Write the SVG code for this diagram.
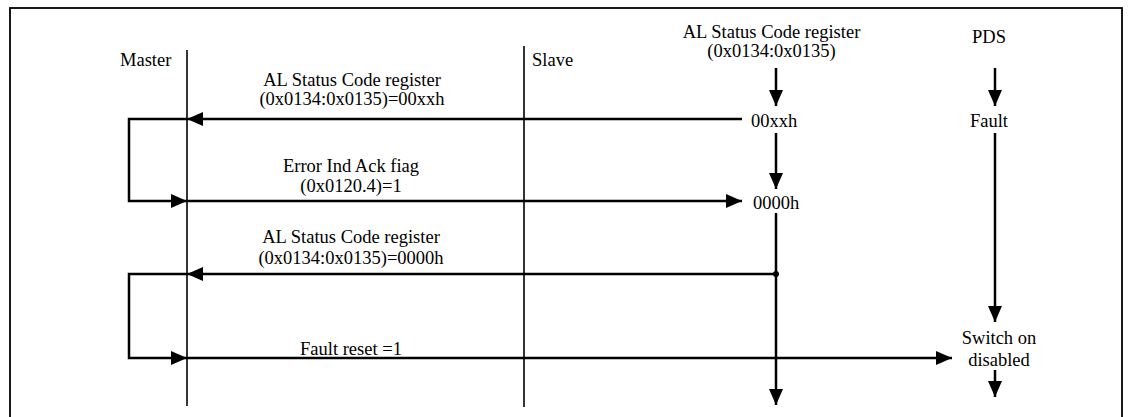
<svg xmlns="http://www.w3.org/2000/svg" width="1131" height="417" viewBox="0 0 1131 417">
<style>
text{font-family:"Liberation Serif","Times New Roman",serif;font-size:18.5px;fill:#000}
.c{text-anchor:middle}
.life{stroke:#000;stroke-width:1.6;fill:none}
.arr{stroke:#000;stroke-width:2.5;fill:none}
.frame{stroke:#000;stroke-width:1.8;fill:none}
</style>
<defs>
<marker id="ah" markerUnits="userSpaceOnUse" markerWidth="17" markerHeight="15" refX="16" refY="7" orient="auto">
<path d="M0,0 L16,7 L0,14 z" fill="#000"/>
</marker>
</defs>
<rect class="frame" x="10" y="8" width="1112" height="412"/>
<g id="master">
<line class="life" x1="187" y1="50" x2="187" y2="406"/>
<text x="120" y="66">Master</text>
</g>
<g id="slave">
<line class="life" x1="524" y1="46" x2="524" y2="407"/>
<text x="532" y="66">Slave</text>
</g>
<g id="al-register">
<text class="c" x="771.5" y="38">AL Status Code register</text>
<text class="c" x="771.5" y="57">(0x0134:0x0135)</text>
</g>
<g id="pds">
<text class="c" x="989" y="43">PDS</text>
</g>
<g id="state-00xxh">
<text class="c" x="774" y="127">00xxh</text>
</g>
<g id="state-fault">
<text class="c" x="989" y="127">Fault</text>
</g>
<g id="state-0000h">
<text class="c" x="776" y="209">0000h</text>
</g>
<g id="state-switch-on-disabled">
<text class="c" x="999" y="344">Switch on</text>
<text class="c" x="999" y="366">disabled</text>
</g>
<g id="labels">
<text class="c" x="352" y="86">AL Status Code register</text>
<text class="c" x="352" y="105">(0x0134:0x0135)=00xxh</text>
<text class="c" x="351" y="172">Error Ind Ack fiag</text>
<text class="c" x="351" y="192">(0x0120.4)=1</text>
<text class="c" x="351" y="243">AL Status Code register</text>
<text class="c" x="351" y="264">(0x0134:0x0135)=0000h</text>
<text class="c" x="351" y="355">Fault reset =1</text>
</g>
<g id="connectors">
<line class="arr" x1="776" y1="68" x2="776" y2="106" marker-end="url(#ah)"/>
<line class="arr" x1="995" y1="68" x2="995" y2="106" marker-end="url(#ah)"/>
<line class="arr" x1="742" y1="119" x2="187" y2="119" marker-end="url(#ah)"/>
<path class="arr" d="M187,119 H129 V201 H187" marker-end="url(#ah)"/>
<line class="arr" x1="187" y1="201" x2="742" y2="201" marker-end="url(#ah)"/>
<line class="arr" x1="776" y1="133" x2="776" y2="189" marker-end="url(#ah)"/>
<line class="arr" x1="776" y1="213" x2="776" y2="405" marker-end="url(#ah)"/>
<circle cx="776" cy="274" r="3" fill="#000"/>
<line class="arr" x1="776" y1="274" x2="187" y2="274" marker-end="url(#ah)"/>
<path class="arr" d="M187,274 H129 V358 H187" marker-end="url(#ah)"/>
<line class="arr" x1="187" y1="358" x2="952" y2="358" marker-end="url(#ah)"/>
<line class="arr" x1="995" y1="133" x2="995" y2="322" marker-end="url(#ah)"/>
<line class="arr" x1="995" y1="370" x2="995" y2="397" marker-end="url(#ah)"/>
</g>
</svg>
